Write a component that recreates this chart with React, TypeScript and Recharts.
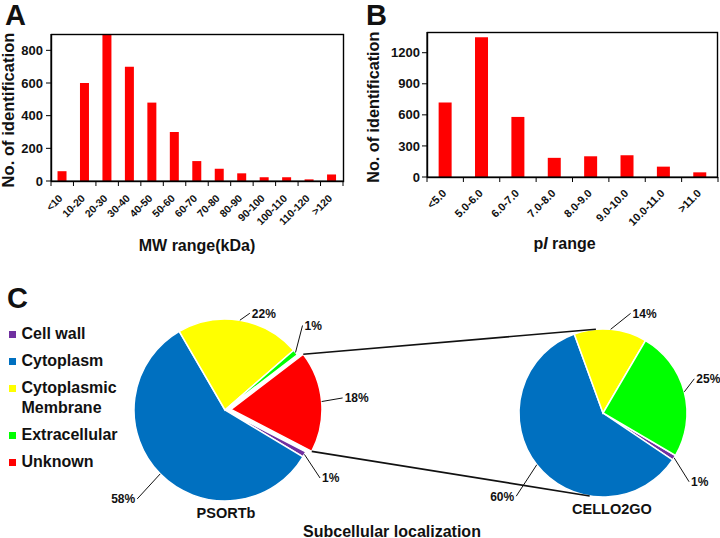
import React from 'react';
import { BarChart, Bar, XAxis, YAxis, PieChart, Pie, Cell, Legend } from 'recharts';

// ---------------- data ----------------
const mwCategories = ['<10', '10-20', '20-30', '30-40', '40-50', '50-60', '60-70', '70-80', '80-90', '90-100', '100-110', '110-120', '>120'];
const mwCounts = [60, 600, 900, 700, 480, 300, 122, 75, 47, 23, 23, 10, 40];
const mwTicks = [0, 200, 400, 600, 800];
const mwMax = 900;

const piCategories = ['<5.0', '5.0-6.0', '6.0-7.0', '7.0-8.0', '8.0-9.0', '9.0-10.0', '10.0-11.0', '>11.0'];
const piCounts = [720, 1350, 580, 185, 200, 210, 100, 45];
const piTicks = [0, 300, 600, 900, 1200];
const piMax = 1400;

const locCategories = ['Cell wall', 'Cytoplasm', 'Cytoplasmic Membrane', 'Extracellular', 'Unknown'];
const psortbPercent = [1, 58, 22, 1, 18];
const cello2goPercent = [1, 60, 14, 25, 0];

// ---------------- styles ----------------
const FONT = '"Liberation Sans", Arial, Helvetica, sans-serif';
const INK = '#111';
const AXIS = '#000';
const BAR_RED = '#FF0000';
const locColors = ['#7030A0', '#0070C0', '#FFFF00', '#00FF00', '#FF0000'];

// label leader nudges (style only)
const PSORTB_LABEL_NUDGE = [[15.6, 23.6], [-23, 25], [10, -7], [7, -27], [21, -3.6]];
const CELLO_LABEL_NUDGE = [[15, 24], [-20.6, 31.5], [20, -16], [10, -13], [0, 0]];

const mwData = mwCategories.map((c, i) => ({ range: c, count: mwCounts[i] }));
const piData = piCategories.map((c, i) => ({ range: c, count: piCounts[i] }));
const psortbData = locCategories.map((name, i) => ({ name, value: psortbPercent[i], idx: i }));
const celloData = locCategories
  .map((name, i) => ({ name, value: cello2goPercent[i], idx: i }))
  .filter((d) => d.value > 0);

// ---------------- geometry helpers ----------------
const RAD = Math.PI / 180;
const polar = (cx: number, cy: number, r: number, a: number) => ({
  x: cx + r * Math.cos(-a * RAD),
  y: cy + r * Math.sin(-a * RAD),
});
function sectorAngles(values: number[], start: number) {
  const total = values.reduce((s, v) => s + v, 0);
  let a = start;
  return values.map((v) => {
    const sweep = (-360 * v) / total;
    const s = { start: a, end: a + sweep, mid: a + sweep / 2 };
    a += sweep;
    return s;
  });
}
function tangent(p: { x: number; y: number }, c: { cx: number; cy: number; r: number }, upper: boolean) {
  const dx = p.x - c.cx;
  const dy = p.y - c.cy;
  const d = Math.hypot(dx, dy);
  const th = Math.atan2(dy, dx);
  const al = Math.acos(c.r / d);
  const c1 = { x: c.cx + c.r * Math.cos(th + al), y: c.cy + c.r * Math.sin(th + al) };
  const c2 = { x: c.cx + c.r * Math.cos(th - al), y: c.cy + c.r * Math.sin(th - al) };
  if (upper) return c1.y < c2.y ? c1 : c2;
  return c1.y > c2.y ? c1 : c2;
}

// ---------------- bar chart layout ----------------
const A = { w: 360, h: 270, top: 34, right: 17, yw: 51, xh: 89 };
const B = { w: 360, h: 270, top: 32, right: 2, yw: 67, xh: 93 };
const plotBox = (L: typeof A) => ({ x: L.yw, y: L.top, w: L.w - L.right - L.yw, h: L.h - L.top - L.xh });
const aBox = plotBox(A);
const bBox = plotBox(B);
const aStep = aBox.w / mwCategories.length;
const bStep = bBox.w / piCategories.length;

const makeXTick = (step: number, n: number, fontSize: number, dx: number, dy: number) => (props: any) => {
  const { x, y, payload, index } = props;
  return (
    <g>
      <line x1={x - step / 2} y1={y} x2={x - step / 2} y2={y + 5} stroke={AXIS} strokeWidth={1} />
      {index === n - 1 ? (
        <line x1={x + step / 2} y1={y} x2={x + step / 2} y2={y + 5} stroke={AXIS} strokeWidth={1} />
      ) : null}
      <text
        transform={`translate(${x + dx},${y + dy}) rotate(-45)`}
        textAnchor="end"
        fontSize={fontSize}
        fontWeight="bold"
        fill={INK}
        fontFamily={FONT}
      >
        {payload.value}
      </text>
    </g>
  );
};

const yTitle = (text: string, size: number, xOff: number, yOff: number) => (props: any) => {
  const vb = props.viewBox;
  const x = vb.x + xOff;
  const cy = vb.y + vb.height / 2 + yOff;
  return (
    <text
      x={x}
      y={cy}
      transform={`rotate(-90 ${x} ${cy})`}
      textAnchor="middle"
      fontSize={size}
      fontWeight="bold"
      fill={INK}
      fontFamily={FONT}
    >
      {text}
    </text>
  );
};

const xTitle = (content: React.ReactNode, xOff: number, yOff: number) => (props: any) => {
  const vb = props.viewBox;
  return (
    <text
      x={vb.x + vb.width / 2 + xOff}
      y={vb.y + yOff}
      textAnchor="middle"
      fontSize={16}
      fontWeight="bold"
      fill={INK}
      fontFamily={FONT}
    >
      {content}
    </text>
  );
};

const yTickStyle = { fontSize: 13, fontWeight: 'bold', fill: INK, fontFamily: FONT } as any;

// plot frames (box around each bar plot area), drawn from the layout constants
const FrameOverlay = () => (
  <svg
    width={720}
    height={270}
    style={{ position: 'absolute', left: 0, top: 0, pointerEvents: 'none', overflow: 'visible', zIndex: 5 }}
  >
    <rect x={aBox.x + 0.5} y={aBox.y + 0.5} width={aBox.w} height={aBox.h} fill="none" stroke={AXIS} strokeWidth={1.4} />
    <rect x={360 + bBox.x + 0.5} y={bBox.y + 0.5} width={bBox.w - 1} height={bBox.h} fill="none" stroke={AXIS} strokeWidth={1.4} />
  </svg>
);

// ---------------- pie layout ----------------
const C_TOP = 270;
const P1 = { cx: 225, cy: 140, r: 91, start: -27.4, explode: 6 };
const P2 = { cx: 603, cy: 143, r: 84, start: -30.4 };
const sectors1 = sectorAngles(psortbPercent, P1.start);
const sectors2 = sectorAngles(cello2goPercent, P2.start);
const UNKNOWN = locCategories.indexOf('Unknown');
const explodedCenter = polar(P1.cx, P1.cy, P1.explode, sectors1[UNKNOWN].mid);

const pieLabel = (opts: {
  cx: number;
  cy: number;
  r: number;
  sectors: { start: number; end: number; mid: number }[];
  percents: number[];
  nudges: number[][];
  only?: number;
  skip?: number;
  extra?: () => React.ReactNode;
}) => (props: any) => {
  const i = props?.payload?.idx ?? props?.idx ?? props.index;
  if (opts.only !== undefined && i !== opts.only) return null;
  if (opts.skip !== undefined && i === opts.skip) return null;
  if (!opts.percents[i]) return null;
  const sec = opts.sectors[i];
  const p0 = polar(opts.cx, opts.cy, opts.r, sec.mid);
  const [dx, dy] = opts.nudges[i];
  const p1 = { x: p0.x + dx, y: p0.y + dy };
  const right = dx >= 0;
  return (
    <g key={`lbl-${i}`}>
      <line x1={p0.x} y1={p0.y} x2={p1.x} y2={p1.y} stroke={INK} strokeWidth={1} />
      <text
        x={p1.x + (right ? 2 : -2)}
        y={p1.y + 4.3}
        textAnchor={right ? 'start' : 'end'}
        fontSize={12}
        fontWeight="bold"
        fill={INK}
        fontFamily={FONT}
      >
        {opts.percents[i]}%
      </text>
      {opts.extra ? opts.extra() : null}
    </g>
  );
};

const connectors = () => {
  const red = sectors1[UNKNOWN];
  const a = polar(explodedCenter.x, explodedCenter.y, P1.r, red.start);
  const b = polar(explodedCenter.x, explodedCenter.y, P1.r, red.end);
  const upperPt = a.y < b.y ? a : b;
  const lowerPt = a.y < b.y ? b : a;
  const ta = tangent(upperPt, P2, true);
  const tb = tangent(lowerPt, P2, false);
  return (
    <g>
      <line x1={upperPt.x} y1={upperPt.y} x2={ta.x} y2={ta.y} stroke={INK} strokeWidth={1.6} />
      <line x1={lowerPt.x} y1={lowerPt.y} x2={tb.x} y2={tb.y} stroke={INK} strokeWidth={1.6} />
    </g>
  );
};

const legendContent = () => (
  <div style={{ fontFamily: FONT, fontWeight: 'bold', fontSize: 16, color: INK, width: 128 }}>
    {locCategories.map((name, i) => (
      <div key={name} style={{ position: 'relative', paddingLeft: 21.5, lineHeight: '20px', marginBottom: 7 }}>
        <span
          style={{
            position: 'absolute',
            left: 9,
            top: 6.5,
            width: 7,
            height: 7,
            background: locColors[i],
          }}
        />
        {name}
      </div>
    ))}
  </div>
);

export default function App() {
  return (
    <div
      style={{
        position: 'absolute',
        left: 0,
        top: 0,
        width: 720,
        height: 538,
        background: '#fff',
        fontFamily: FONT,
        overflow: 'hidden',
      }}
    >
      {/* Panel A */}
      <div style={{ position: 'absolute', left: 0, top: 0 }}>
        <BarChart
          width={A.w}
          height={A.h}
          data={mwData}
          margin={{ top: A.top, right: A.right, left: 0, bottom: 0 }}
          barCategoryGap="29%"
        >
          <text x={5} y={25} fontSize={29} fontWeight="bold" fill={INK} fontFamily={FONT}>
            A
          </text>
          <XAxis
            dataKey="range"
            interval={0}
            height={A.xh}
            tickSize={0}
            tickMargin={0}
            tickLine={false}
            axisLine={{ stroke: AXIS, strokeWidth: 1.2 }}
            tick={makeXTick(aStep, mwCategories.length, 10.5, 1, 18)}
            label={{ content: xTitle('MW range(kDa)', 0, 70) } as any}
          />
          <YAxis
            width={A.yw}
            domain={[0, mwMax]}
            ticks={mwTicks}
            tickSize={5}
            tickMargin={3}
            tick={yTickStyle}
            axisLine={{ stroke: AXIS, strokeWidth: 1.2 }}
            tickLine={{ stroke: AXIS }}
            label={{ content: yTitle('No. of identification', 16.6, 13.5, 2.5) } as any}
          />
          <Bar dataKey="count" fill={BAR_RED} isAnimationActive={false} />
        </BarChart>
      </div>

      {/* Panel B */}
      <div style={{ position: 'absolute', left: 360, top: 0 }}>
        <BarChart
          width={B.w}
          height={B.h}
          data={piData}
          margin={{ top: B.top, right: B.right, left: 0, bottom: 0 }}
          barCategoryGap="32%"
        >
          <text x={6} y={25} fontSize={29} fontWeight="bold" fill={INK} fontFamily={FONT}>
            B
          </text>
          <XAxis
            dataKey="range"
            interval={0}
            height={B.xh}
            tickSize={0}
            tickMargin={0}
            tickLine={false}
            axisLine={{ stroke: AXIS, strokeWidth: 1.2 }}
            tick={makeXTick(bStep, piCategories.length, 11, 2, 17)}
            label={{
              content: xTitle(
                <>
                  <tspan>p</tspan>
                  <tspan fontStyle="italic">I</tspan>
                  <tspan> range</tspan>
                </>,
                -8,
                72
              ),
            } as any}
          />
          <YAxis
            width={B.yw}
            domain={[0, piMax]}
            ticks={piTicks}
            tickSize={5}
            tickMargin={2}
            tick={yTickStyle}
            axisLine={{ stroke: AXIS, strokeWidth: 1.2 }}
            tickLine={{ stroke: AXIS }}
            label={{ content: yTitle('No. of identification', 16.2, 19, 2.7) } as any}
          />
          <Bar dataKey="count" fill={BAR_RED} isAnimationActive={false} />
        </BarChart>
      </div>

      <FrameOverlay />

      {/* Panel C */}
      <div style={{ position: 'absolute', left: 0, top: C_TOP }}>
        <PieChart width={720} height={538 - C_TOP} margin={{ top: 0, right: 0, bottom: 0, left: 0 }}>
          <text x={7} y={38} fontSize={29} fontWeight="bold" fill={INK} fontFamily={FONT}>
            C
          </text>
          <Legend
            layout="vertical"
            align="center"
            verticalAlign="middle"
            content={legendContent}
            wrapperStyle={{ left: 0, top: 54, width: 130, height: 'auto' }}
          />
          <Pie
            data={celloData}
            dataKey="value"
            nameKey="name"
            cx={P2.cx}
            cy={P2.cy}
            outerRadius={P2.r}
            startAngle={P2.start}
            endAngle={P2.start - 360}
            stroke="#fff"
            strokeWidth={1.5}
            isAnimationActive={false}
            labelLine={false}
            label={pieLabel({
              cx: P2.cx,
              cy: P2.cy,
              r: P2.r,
              sectors: sectors2,
              percents: cello2goPercent,
              nudges: CELLO_LABEL_NUDGE,
            })}
          >
            {celloData.map((d) => (
              <Cell key={d.name} fill={locColors[d.idx]} />
            ))}
          </Pie>
          <Pie
            data={psortbData}
            dataKey="value"
            nameKey="name"
            cx={P1.cx}
            cy={P1.cy}
            outerRadius={P1.r}
            startAngle={P1.start}
            endAngle={P1.start - 360}
            stroke="#fff"
            strokeWidth={1.5}
            isAnimationActive={false}
            labelLine={false}
            label={pieLabel({
              cx: P1.cx,
              cy: P1.cy,
              r: P1.r,
              sectors: sectors1,
              percents: psortbPercent,
              nudges: PSORTB_LABEL_NUDGE,
              skip: UNKNOWN,
            })}
          >
            {psortbData.map((d) => (
              <Cell
                key={d.name}
                fill={d.idx === UNKNOWN ? 'none' : locColors[d.idx]}
                stroke={d.idx === UNKNOWN ? 'none' : '#fff'}
              />
            ))}
          </Pie>
          <Pie
            data={psortbData}
            dataKey="value"
            nameKey="name"
            cx={explodedCenter.x}
            cy={explodedCenter.y}
            outerRadius={P1.r}
            startAngle={P1.start}
            endAngle={P1.start - 360}
            stroke="#fff"
            strokeWidth={1.5}
            isAnimationActive={false}
            labelLine={false}
            label={pieLabel({
              cx: explodedCenter.x,
              cy: explodedCenter.y,
              r: P1.r,
              sectors: sectors1,
              percents: psortbPercent,
              nudges: PSORTB_LABEL_NUDGE,
              only: UNKNOWN,
              extra: connectors,
            })}
          >
            {psortbData.map((d) => (
              <Cell
                key={d.name}
                fill={d.idx === UNKNOWN ? locColors[d.idx] : 'none'}
                stroke={d.idx === UNKNOWN ? '#fff' : 'none'}
              />
            ))}
          </Pie>
          <text x={226} y={248} textAnchor="middle" fontSize={14.5} fontWeight="bold" fill={INK} fontFamily={FONT}>
            PSORTb
          </text>
          <text x={612} y={244} textAnchor="middle" fontSize={14.5} fontWeight="bold" fill={INK} fontFamily={FONT}>
            CELLO2GO
          </text>
          <text x={392} y={266.5} textAnchor="middle" fontSize={16} fontWeight="bold" fill={INK} fontFamily={FONT}>
            Subcellular localization
          </text>
        </PieChart>
      </div>
    </div>
  );
}
